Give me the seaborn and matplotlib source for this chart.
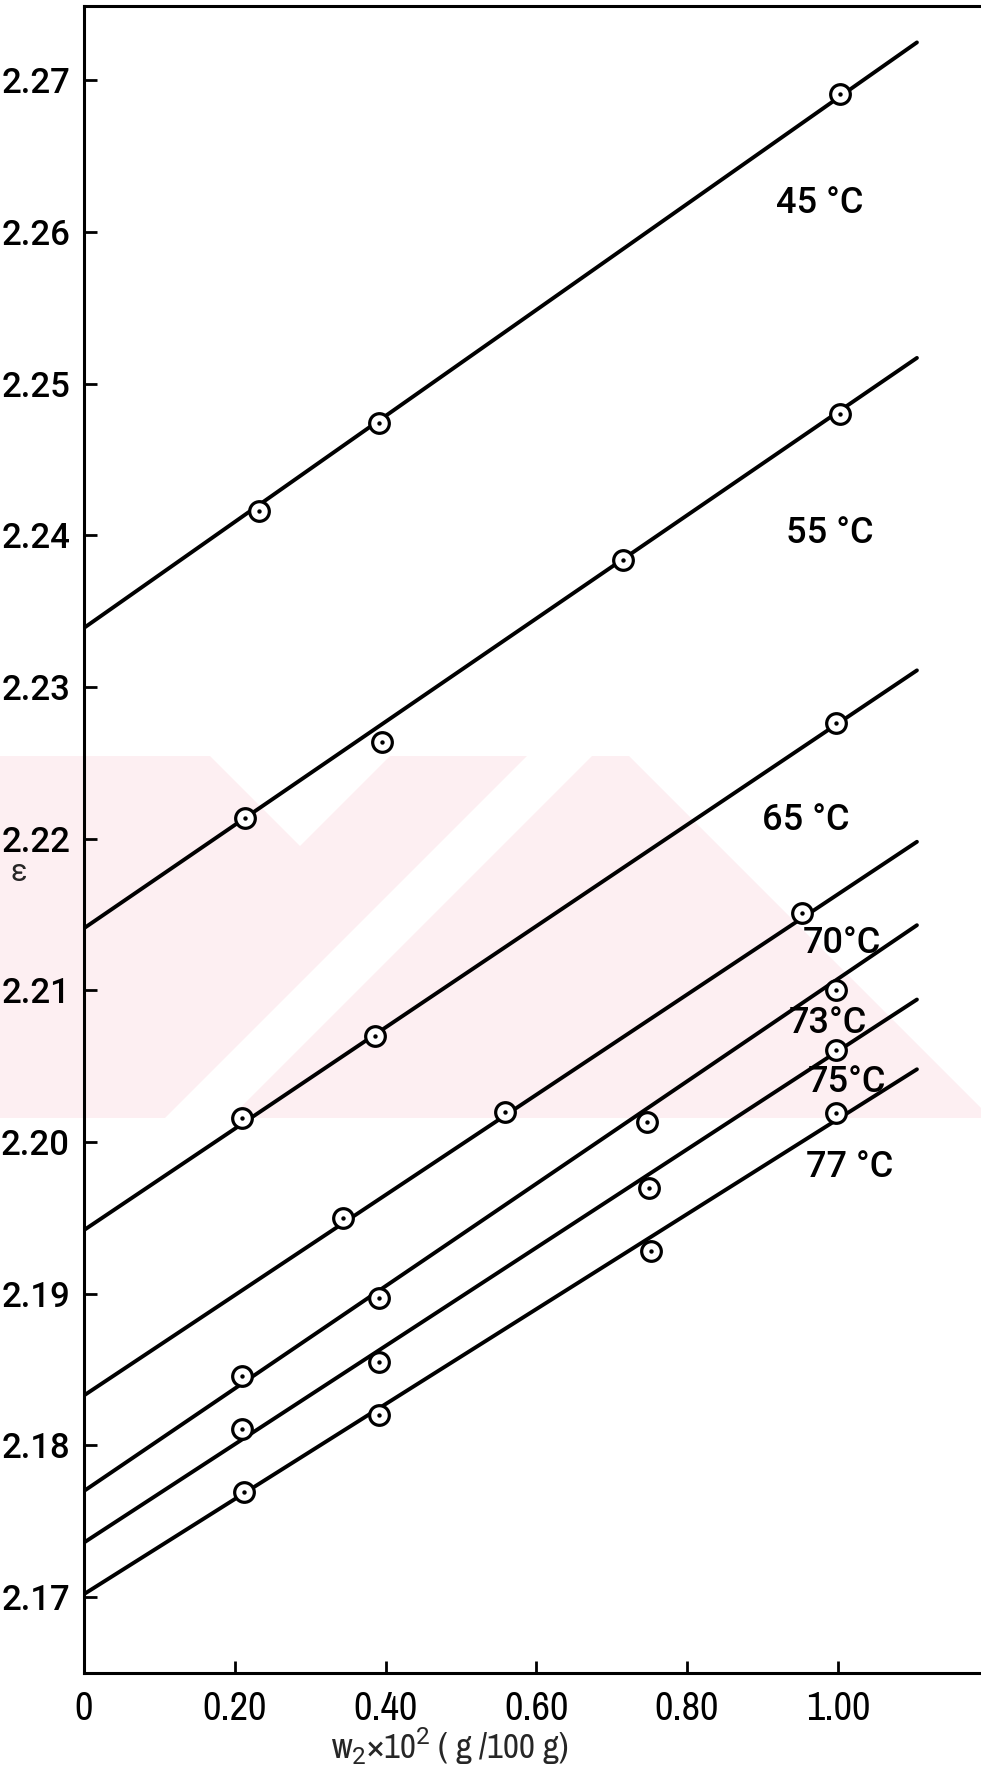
import numpy as np
import pandas as pd
import matplotlib
matplotlib.use("Agg")
import matplotlib.pyplot as plt
from matplotlib import font_manager as fm
from matplotlib.patches import Polygon
import seaborn as sns

# Dielectric constant of the solutions against solute weight fraction
temps = ["45 °C", "55 °C", "65 °C", "70°C", "73°C", "75°C", "77 °C"]

w45 = [0.232, 0.392, 1.003]
e45 = [2.2416, 2.2474, 2.2691]
w55 = [0.213, 0.395, 0.715, 1.003]
e55 = [2.2214, 2.2264, 2.2384, 2.2480]
w65 = [0.210, 0.386, 0.997]
e65 = [2.2016, 2.2070, 2.2276]
w70 = [0.343, 0.558, 0.952]
e70 = [2.1950, 2.2020, 2.2151]
w73 = [0.210, 0.392, 0.747, 0.997]
e73 = [2.1846, 2.1897, 2.2013, 2.2100]
w75 = [0.210, 0.392, 0.749, 0.997]
e75 = [2.1811, 2.1855, 2.1970, 2.2061]
w77 = [0.212, 0.392, 0.752, 0.997]
e77 = [2.1769, 2.1820, 2.1928, 2.2019]

# fitted straight lines: value at w=0 and at the end of the drawn range
fit_w_end = 1.105
fit_e0 = [2.2339, 2.2141, 2.1942, 2.1833, 2.1770, 2.1736, 2.1702]
fit_e_end = [2.2725, 2.2517, 2.2311, 2.2198, 2.2143, 2.2094, 2.2048]

x_ticks = [0, 0.20, 0.40, 0.60, 0.80, 1.00]
x_ticklabels = ["0", "0.20", "0.40", "0.60", "0.80", "1.00"]
y_ticks = [2.17, 2.18, 2.19, 2.20, 2.21, 2.22, 2.23, 2.24, 2.25, 2.26, 2.27]
y_ticklabels = ["2.17", "2.18", "2.19", "2.20", "2.21", "2.22", "2.23",
                "2.24", "2.25", "2.26", "2.27"]

counts = [len(w45), len(w55), len(w65), len(w70), len(w73), len(w75), len(w77)]
points = pd.DataFrame({
    "w": w45 + w55 + w65 + w70 + w73 + w75 + w77,
    "eps": e45 + e55 + e65 + e70 + e73 + e75 + e77,
    "T": [t for t, n in zip(temps, counts) for _ in range(n)],
})
lines = pd.DataFrame({
    "w": [0.0, fit_w_end] * len(temps),
    "eps": [v for pair in zip(fit_e0, fit_e_end) for v in pair],
    "T": [t for t in temps for _ in range(2)],
})

sns.set_theme(style="ticks")
plt.rcParams["font.family"] = ["Roboto", "DejaVu Sans"]
plt.rcParams["mathtext.fontset"] = "custom"
plt.rcParams["mathtext.rm"] = "Roboto"


def narrow_font(size):
    """Liberation Sans Narrow (regular) when installed, else Roboto."""
    for f in fm.fontManager.ttflist:
        if "narrow" in f.name.lower() and f.style == "normal" \
                and f.weight in (400, "normal", "regular", "book"):
            return fm.FontProperties(fname=f.fname, size=size)
    return fm.FontProperties(family="Roboto", size=size)


W, H = 981, 1766
fig = plt.figure(figsize=(W / 100, H / 100), dpi=100)
fig.patch.set_facecolor("white")

# faint stamp printed across the middle of the sheet (pixel outlines, y downwards)
stamp_color = "#fdeff2"
stamp_pink = [[(0, 756), (629, 756), (991, 1118), (0, 1118)]]
stamp_gaps = [[(210, 756), (390, 756), (300, 846)],
              [(527, 756), (592, 756), (230, 1118), (165, 1118)]]
for shape, col in [(s, stamp_color) for s in stamp_pink] + \
                  [(s, "white") for s in stamp_gaps]:
    fig.add_artist(Polygon([(x / W, 1 - y / H) for x, y in shape],
                           closed=True, transform=fig.transFigure,
                           facecolor=col, edgecolor="none", zorder=-10))

ax = fig.add_axes([84 / W, 93 / H, 897 / W, 1667 / H])
ax.set_zorder(5)
ax.set_facecolor("none")

for t in temps:
    sub = lines[lines["T"] == t]
    sns.lineplot(data=sub, x="w", y="eps", color="black", lw=2.8,
                 sort=False, estimator=None, ax=ax, legend=False, zorder=2)

sns.scatterplot(data=points, x="w", y="eps", marker="o", s=200,
                facecolor="white", edgecolor="black", linewidth=2.3,
                ax=ax, legend=False, zorder=3)
sns.scatterplot(data=points, x="w", y="eps", marker="o", s=10,
                color="black", edgecolor="black", linewidth=0,
                ax=ax, legend=False, zorder=4)

# temperature labels beside each line
label_pos = [(0.976, 2.2619), (0.989, 2.2401), (0.958, 2.2212), (1.005, 2.2131),
             (0.987, 2.2078), (1.012, 2.2039), (1.016, 2.1983)]
for t, (lx, ly) in zip(temps, label_pos):
    ax.text(lx, ly, t, ha="center", va="center", fontsize=26,
            fontweight="medium", color="black")

ax.set_xlim(0, 1.19)
ax.set_ylim(2.165, 2.2749)
ax.set_xticks(x_ticks)
ax.set_xticklabels(x_ticklabels)
ax.set_yticks(y_ticks)
ax.set_yticklabels(y_ticklabels)

ax.tick_params(axis="both", direction="in", length=9, width=2.0,
               colors="black", labelsize=25)
ax.tick_params(axis="y", pad=10)
ax.tick_params(axis="x", pad=12)
for lab in ax.get_yticklabels():
    lab.set_fontweight("medium")
xfont = narrow_font(29)
for lab in ax.get_xticklabels():
    lab.set_fontproperties(xfont)

for side in ["left", "bottom", "top"]:
    ax.spines[side].set_linewidth(2.2)
    ax.spines[side].set_color("black")
ax.spines["right"].set_visible(False)

ax.set_xlabel(r"w$_2$×10$^2$ ( g /100 g)", fontproperties=narrow_font(25))
ax.xaxis.label.set_va("center")
ax.xaxis.set_label_coords(0.408, -0.044)
ax.set_ylabel("ε", rotation=0, fontsize=22, ha="center", va="center")
ax.yaxis.set_label_coords(-0.0725, 0.480)

fig.savefig("out.png", dpi=100, facecolor="white")
